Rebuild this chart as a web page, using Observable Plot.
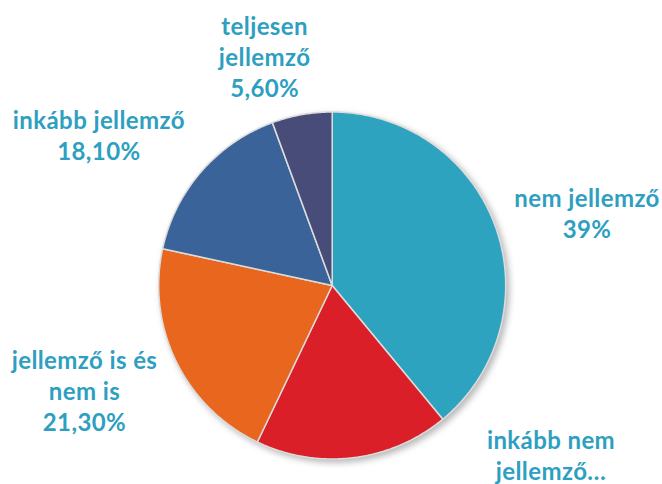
<!DOCTYPE html>
<html><head><meta charset="utf-8">
<script src="https://cdn.jsdelivr.net/npm/d3@7"></script>
<script src="https://cdn.jsdelivr.net/npm/@observablehq/plot@0.6"></script>
<style>body{margin:0;background:#fff}</style>
</head><body><div id="chart"></div>
<script>
// ---- data ----
const categories = ["nem jellemző", "inkább nem jellemző", "jellemző is és nem is", "inkább jellemző", "teljesen jellemző"];
const sliceValues = [39, 18.1, 21.3, 16, 5.6];
const labelTexts = ["nem jellemző\n39%", "inkább nem\njellemző…", "jellemző is és\nnem is\n21,30%", "inkább jellemző\n18,10%", "teljesen\njellemző\n5,60%"];

// ---- style / layout ----
const colors = ["#2EA3BF", "#DA1F28", "#E8661E", "#3A6399", "#474C78"];
const labelColor = "#2E9FC0";
const labelRadius = 1.5;
const labelNudge = [[10, 15], [187, -89], [-14, -10], [-37, 20], [-22, 27]];

const total = d3.sum(sliceValues);
const pt = (a, r) => [r * Math.sin(a), r * Math.cos(a)];
let acc = 0;
const slices = sliceValues.map((v, i) => {
  const a0 = acc / total * 2 * Math.PI;
  acc += v;
  const a1 = acc / total * 2 * Math.PI;
  const n = Math.max(2, Math.ceil((a1 - a0) / (Math.PI / 360)));
  const ring = [[0, 0]];
  for (let k = 0; k <= n; k++) ring.push(pt(a0 + (a1 - a0) * k / n, 1));
  ring.push([0, 0]);
  const [lx, ly] = pt((a0 + a1) / 2, labelRadius);
  return {
    type: "Feature",
    properties: {category: categories[i], label: labelTexts[i], lx, ly, i},
    geometry: {type: "Polygon", coordinates: [ring]}
  };
});

const domain = {type: "Polygon", coordinates: [[[-1, -1], [1, -1], [1, 1], [-1, 1], [-1, -1]]]};

const marks = [
  Plot.geo(slices, {
    fill: d => d.properties.category,
    stroke: "#dcdcdc",
    strokeWidth: 1.5,
    strokeLinejoin: "round"
  })
];
slices.forEach((s, i) => {
  marks.push(Plot.text([s.properties], {
    x: "lx", y: "ly", text: "label",
    dx: labelNudge[i][0], dy: labelNudge[i][1],
    fill: labelColor, fontSize: 24, fontWeight: "bold",
    lineHeight: 1.3, lineAnchor: "middle", textAnchor: "middle"
  }));
});

const chart = Plot.plot({
  width: 662,
  height: 484,
  marginLeft: 158.2,
  marginRight: 156.8,
  marginTop: 111.5,
  marginBottom: 25.5,
  style: {fontFamily: "Lato, 'Open Sans', sans-serif", background: "#fff", overflow: "visible", letterSpacing: "0.4px"},
  projection: {type: () => d3.geoIdentity().reflectY(true), domain, clip: false},
  color: {domain: categories, range: colors},
  marks
});
d3.select(chart).select('g[aria-label="geo"]').style("filter", "drop-shadow(3px 3px 3px rgba(0,0,0,0.28))");
document.getElementById("chart").appendChild(chart);
</script>
</body></html>
